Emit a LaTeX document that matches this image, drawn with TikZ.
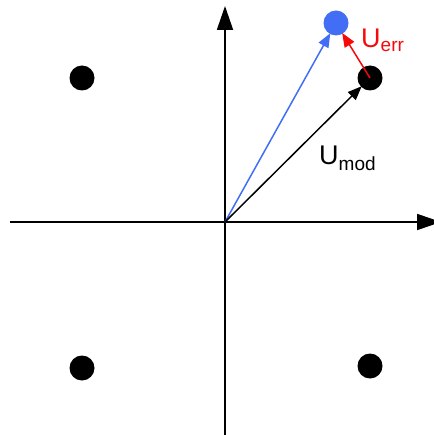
\documentclass[tikz,border=0pt]{standalone}
\usepackage{fontspec}
\setmainfont{Liberation Sans}
\usetikzlibrary{arrows.meta}
\definecolor{vblue}{RGB}{66,110,245}
\definecolor{vred}{RGB}{245,10,10}
\tikzset{
  axis/.style={line width=1.8pt,-{Triangle[length=24pt,width=16pt]}},
  vec/.style={line width=1.5pt,-{Triangle[length=14pt,width=11pt]}, shorten >=-1pt},
  dot/.style={circle,fill=black,minimum size=25pt,inner sep=0pt},
  lbl/.style={font=\fontsize{27}{30}\selectfont, inner sep=0pt}
}
\begin{document}
\begin{tikzpicture}[x=1pt,y=-1pt]
\useasboundingbox (0,0) rectangle (433,435);
\coordinate (xs) at (10,222);
\coordinate (xe) at (441,222);
\coordinate (ys) at (225,436);
\coordinate (ye) at (225,6);
\coordinate (o) at (225,222);
\draw[axis] (xs) -- (xe);
\draw[axis] (ys) -- (ye);
\node[dot] (d1) at (82,78) {};
\node[dot] (d2) at (370,78) {};
\node[dot] (d3) at (82,368) {};
\node[dot] (d4) at (370,366) {};
\node[dot,fill=vblue] (b) at (336,23) {};
\draw[vec,vblue] (o) -- (b);
\draw[vec,black] (o) -- (d2);
\draw[vec,vred] (d2.center) -- (b);
\node[lbl,text=vred,anchor=base west] (ue) at (361,48) {U\textsubscript{\fontsize{19}{20}\selectfont err}};
\node[lbl,anchor=base west] (um) at (319,165) {U\textsubscript{\fontsize{19}{20}\selectfont mod}};
\end{tikzpicture}
\end{document}
